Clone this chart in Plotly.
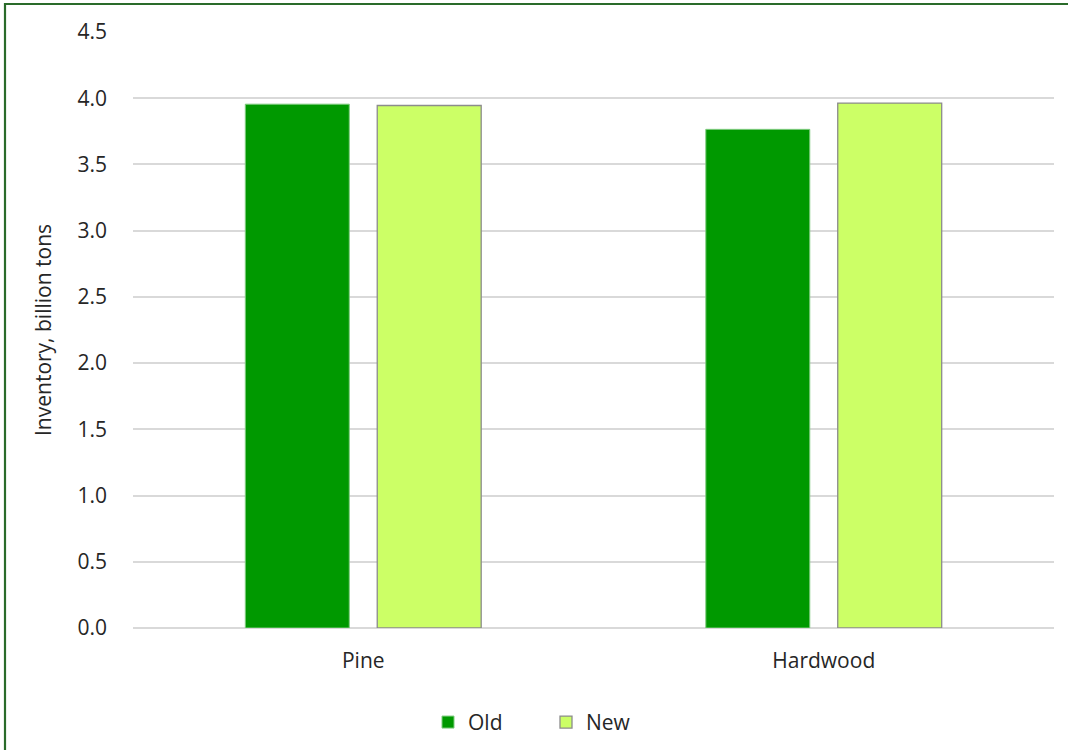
import plotly.graph_objects as go

categories = ["Pine", "Hardwood"]
old_values = [3.955, 3.765]
new_values = [3.945, 3.963]
y_ticks = [0.0, 0.5, 1.0, 1.5, 2.0, 2.5, 3.0, 3.5, 4.0, 4.5]

W, H = 1068, 750
L, R, T, B = 133, 14, 32, 122
pw, ph = W - L - R, H - T - B

font_family = "'Open Sans', 'DejaVu Sans', sans-serif"
text_color = "#262626"

fig = go.Figure()
fig.add_trace(go.Bar(
    name="Old", x=categories, y=old_values,
    marker=dict(color="#009900", line=dict(color="#7fcc7f", width=1)),
))
fig.add_trace(go.Bar(
    name="New", x=categories, y=new_values,
    marker=dict(color="#ccff66", line=dict(color="#8c8c8c", width=1.3)),
))

# outer frame of the chart area
fig.add_shape(
    type="rect", xref="paper", yref="paper",
    x0=(5 - L) / pw, x1=1 + (R + 20) / pw,
    y0=-(B + 20) / ph, y1=1 + (T - 4) / ph,
    line=dict(color="#2a6b2a", width=2.2), fillcolor="rgba(0,0,0,0)",
    layer="above",
)

fig.update_layout(
    width=W, height=H,
    margin=dict(l=L, r=R, t=T, b=B, autoexpand=False),
    paper_bgcolor="white", plot_bgcolor="white",
    barmode="group", bargap=0.427, bargroupgap=0.212,
    font=dict(family=font_family, size=21, color=text_color),
    showlegend=True,
    legend=dict(
        orientation="h", x=(428 - L) / pw, y=-0.124, xanchor="left", yanchor="top",
        font=dict(size=21, color=text_color), itemwidth=30,
        entrywidth=73, entrywidthmode="pixels",
        traceorder="normal",
    ),
    xaxis=dict(
        showgrid=False, showline=False, ticks="", ticklabelstandoff=18,
        tickfont=dict(size=21, color=text_color),
    ),
    yaxis=dict(
        range=[0, 4.5], tickvals=y_ticks,
        ticktext=[f"{v:.1f}" for v in y_ticks],
        showgrid=True, gridcolor="#d9d9d9", gridwidth=2,
        zeroline=True, zerolinecolor="#d9d9d9", zerolinewidth=2,
        showline=False, ticks="", ticklabelstandoff=25,
        tickfont=dict(size=21, color=text_color),
        title=dict(text="Inventory, billion tons", font=dict(size=21, color=text_color),
                   standoff=20),
    ),
)

fig.write_html("out.html")
